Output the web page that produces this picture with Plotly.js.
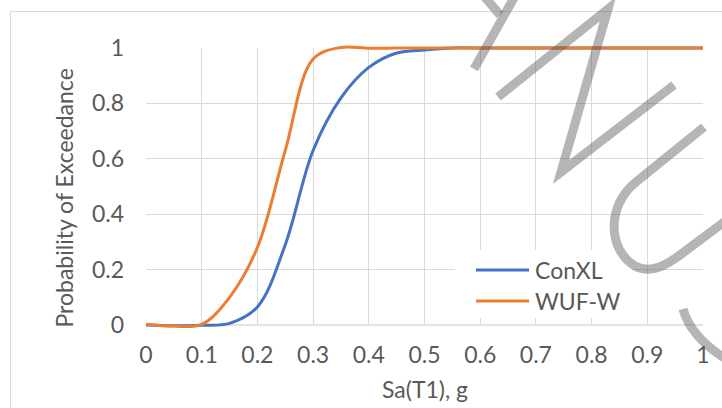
<!DOCTYPE html>
<html>
<head>
<meta charset="utf-8">
<script src="https://cdn.plot.ly/plotly-3.0.1.min.js"></script>
<style>
  html, body { margin: 0; padding: 0; background: #ffffff; }
  #chart { width: 722px; height: 408px; }
</style>
</head>
<body>
<div id="chart"></div>
<script>
// Fragility curves: probability of exceedance vs spectral acceleration
const saValues = [0, 0.05, 0.1, 0.15, 0.2, 0.25, 0.3, 0.35, 0.4, 0.45, 0.5,
                  0.55, 0.6, 0.65, 0.7, 0.75, 0.8, 0.85, 0.9, 0.95, 1];
const conxlProb = [0, -0.003, -0.001, 0.006, 0.065, 0.29, 0.63, 0.82, 0.93, 0.982, 0.993,
                   1, 1, 1, 1, 1, 1, 1, 1, 1, 1];
const wufwProb = [0.003, -0.004, 0.002, 0.1, 0.28, 0.63, 0.96, 1.002, 0.999, 1, 1,
                  1, 1, 1, 1, 1, 1, 1, 1, 1, 1];
const seriesNames = ['ConXL', 'WUF-W'];
const seriesColors = ['#4472C4', '#ED7D31'];
const xTickVals = [0, 0.1, 0.2, 0.3, 0.4, 0.5, 0.6, 0.7, 0.8, 0.9, 1];
const xTickText = ['0', '0.1', '0.2', '0.3', '0.4', '0.5', '0.6', '0.7', '0.8', '0.9', '1'];
const yTickVals = [0, 0.2, 0.4, 0.6, 0.8, 1];
const yTickText = ['0', '0.2', '0.4', '0.6', '0.8', '1'];
const xTitle = 'Sa(T1), g';
const yTitle = 'Probability of Exceedance';

// Layout geometry (pixels)
const W = 722, H = 408;
const box = { left: 146, right: 703, top: 48, bottom: 325 };   // gridded area
const pad = 8;                                                   // room so line strokes at 0 and 1 are not clipped
const mL = box.left - pad, mR = W - box.right - pad, mT = box.top - pad, mB = H - box.bottom - pad;
const paperW = W - mL - mR, paperH = H - mT - mB;
const boxW = box.right - box.left, boxH = box.bottom - box.top;

// pixel -> paper coordinates
function px(x) { return (x - mL) / paperW; }
function py(y) { return (H - mB - y) / paperH; }
function pathFrom(cmds) {
  return cmds.map(c => {
    const pts = [];
    for (let i = 1; i < c.length; i += 2) pts.push(px(c[i]).toFixed(5) + ',' + py(c[i + 1]).toFixed(5));
    return c[0] + ' ' + pts.join(' ');
  }).join(' ');
}

const font = 'Lato, "Open Sans", sans-serif';
const fontSize = 23;
const textColor = '#595959';
const gridColor = '#d9d9d9';

const traces = [
  { x: [], y: [], type: 'scatter', mode: 'lines', xaxis: 'x', yaxis: 'y', showlegend: false, hoverinfo: 'skip' },
  { x: saValues, y: conxlProb, name: seriesNames[0], type: 'scatter', mode: 'lines',
    line: { color: seriesColors[0], width: 3, shape: 'spline', smoothing: 1 }, xaxis: 'x2', yaxis: 'y2' },
  { x: saValues, y: wufwProb, name: seriesNames[1], type: 'scatter', mode: 'lines',
    line: { color: seriesColors[1], width: 3, shape: 'spline', smoothing: 1 }, xaxis: 'x2', yaxis: 'y2' }
];

const shapes = [];
// chart area frame
shapes.push({ type: 'rect', xref: 'paper', yref: 'paper', layer: 'below',
  x0: px(10.5), x1: px(740), y0: py(11.5), y1: py(430),
  line: { color: gridColor, width: 1 }, fillcolor: 'rgba(0,0,0,0)' });
// x axis base line
shapes.push({ type: 'line', xref: 'paper', yref: 'paper', layer: 'below',
  x0: px(box.left), x1: px(box.right), y0: py(box.bottom), y1: py(box.bottom),
  line: { color: '#c8c8c8', width: 1 } });

// legend block
const legend = { x0: 455, x1: 632, y0: 250, y1: 318, lineX0: 476, lineX1: 529, textX: 533, rows: [270, 301] };
shapes.push({ type: 'rect', xref: 'paper', yref: 'paper', layer: 'above',
  x0: px(legend.x0), x1: px(legend.x1), y0: py(legend.y1), y1: py(legend.y0),
  line: { width: 0 }, fillcolor: '#ffffff' });
const annotations = [];
seriesNames.forEach((name, i) => {
  shapes.push({ type: 'line', xref: 'paper', yref: 'paper', layer: 'above',
    x0: px(legend.lineX0), x1: px(legend.lineX1), y0: py(legend.rows[i]), y1: py(legend.rows[i]),
    line: { color: seriesColors[i], width: 3 } });
  annotations.push({ text: name, xref: 'paper', yref: 'paper', x: px(legend.textX), y: py(legend.rows[i]),
    xanchor: 'left', yanchor: 'middle', showarrow: false, font: { family: font, size: fontSize, color: textColor } });
});

// axis titles
annotations.push({ text: xTitle, xref: 'paper', yref: 'paper', x: px((box.left + box.right) / 2), y: py(389),
  xanchor: 'center', yanchor: 'middle', showarrow: false, font: { family: font, size: fontSize, color: textColor } });
annotations.push({ text: yTitle, xref: 'paper', yref: 'paper', x: px(64), y: py(198.5), textangle: -90,
  xanchor: 'center', yanchor: 'middle', showarrow: false, font: { family: font, size: fontSize, color: textColor } });

// "MANUSCRIPT" stamp strokes crossing the upper right of the chart
const stamp = 'rgba(90,90,90,0.45)';
const stampPaths = [
  [['M', 474, 69], ['L', 515, -4]],
  [['M', 500, 15], ['L', 484, -4]],
  [['M', 498, 97], ['L', 608, 9], ['L', 561, 172], ['L', 674, 85]],
  [['M', 704, 127], ['L', 636, 182], ['C', 606, 206, 608, 250, 635, 266], ['C', 650, 274, 665, 266, 680, 255], ['L', 735, 214]],
  [['M', 683, 309], ['Q', 692, 341, 735, 364]]
];
stampPaths.forEach(p => {
  shapes.push({ type: 'path', xref: 'paper', yref: 'paper', layer: 'above',
    path: pathFrom(p), line: { color: stamp, width: 9 }, fillcolor: 'rgba(0,0,0,0)' });
});

const layout = {
  width: W, height: H,
  margin: { l: mL, r: mR, t: mT, b: mB, pad: 0 },
  paper_bgcolor: '#ffffff', plot_bgcolor: 'rgba(0,0,0,0)',
  showlegend: false,
  font: { family: font, color: textColor, size: fontSize },
  xaxis: {
    domain: [pad / paperW, 1 - pad / paperW], anchor: 'y', range: [0, 1],
    tickvals: xTickVals, ticktext: xTickText, ticks: '', showline: false, ticklabelstandoff: 14,
    showgrid: true, gridcolor: gridColor, gridwidth: 1, zeroline: false,
    tickfont: { family: font, size: fontSize, color: textColor }, fixedrange: true
  },
  yaxis: {
    domain: [pad / paperH, 1 - pad / paperH], anchor: 'x', range: [0, 1],
    tickvals: yTickVals, ticktext: yTickText, ticks: '', showline: false, ticklabelstandoff: 21,
    showgrid: true, gridcolor: gridColor, gridwidth: 1, zeroline: false,
    tickfont: { family: font, size: fontSize, color: textColor }, fixedrange: true
  },
  xaxis2: { domain: [0, 1], anchor: 'y2', range: [-pad / boxW, 1 + pad / boxW], visible: false, fixedrange: true },
  yaxis2: { domain: [0, 1], anchor: 'x2', range: [-pad / boxH, 1 + pad / boxH], visible: false, fixedrange: true },
  shapes: shapes,
  annotations: annotations
};

Plotly.newPlot('chart', traces, layout, { displayModeBar: false, staticPlot: true });
</script>
</body>
</html>
